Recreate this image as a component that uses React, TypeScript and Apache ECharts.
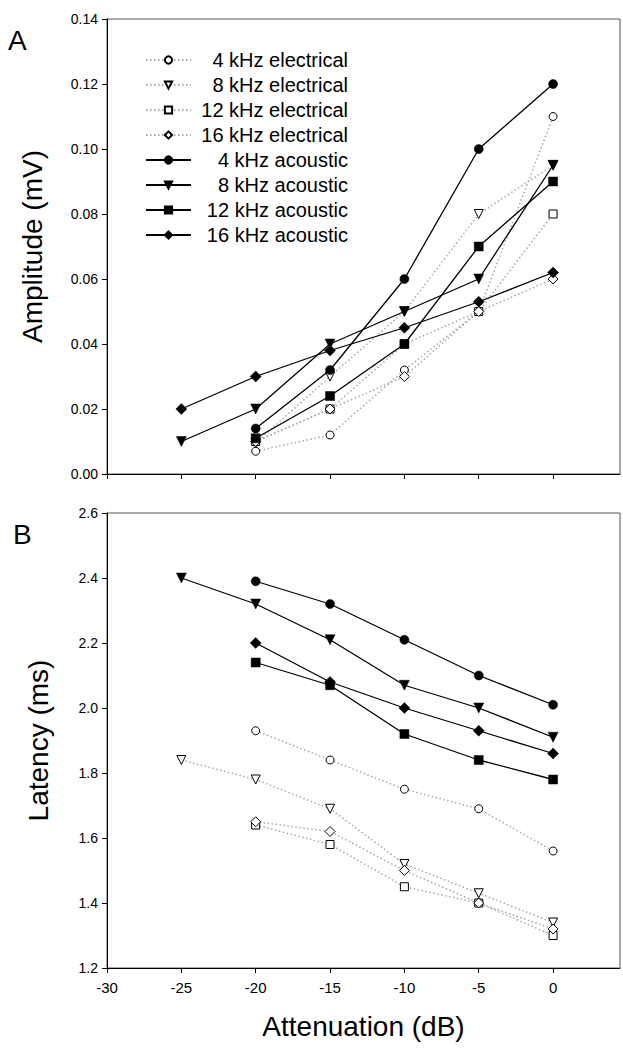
import React, { useEffect, useRef } from "react";
import * as echarts from "echarts";

// Attenuation (dB) positions shared by all series
const attenuation = [-25, -20, -15, -10, -5, 0];
const xTickValues = [-30, -25, -20, -15, -10, -5, 0];

const seriesNames = [
  "4 kHz electrical",
  "8 kHz electrical",
  "12 kHz electrical",
  "16 kHz electrical",
  "4 kHz acoustic",
  "8 kHz acoustic",
  "12 kHz acoustic",
  "16 kHz acoustic",
];

// Panel A: amplitude (mV)
const ampElec4 = [null, 0.007, 0.012, 0.032, 0.05, 0.11];
const ampElec8 = [null, 0.0095, 0.03, 0.05, 0.08, 0.095];
const ampElec12 = [null, 0.01, 0.02, 0.04, 0.05, 0.08];
const ampElec16 = [null, 0.01, 0.02, 0.03, 0.05, 0.06];
const ampAc4 = [null, 0.014, 0.032, 0.06, 0.1, 0.12];
const ampAc8 = [0.01, 0.02, 0.04, 0.05, 0.06, 0.095];
const ampAc12 = [null, 0.011, 0.024, 0.04, 0.07, 0.09];
const ampAc16 = [0.02, 0.03, 0.038, 0.045, 0.053, 0.062];

// Panel B: latency (ms)
const latElec4 = [null, 1.93, 1.84, 1.75, 1.69, 1.56];
const latElec8 = [1.84, 1.78, 1.69, 1.52, 1.43, 1.34];
const latElec12 = [null, 1.64, 1.58, 1.45, 1.4, 1.3];
const latElec16 = [null, 1.65, 1.62, 1.5, 1.4, 1.32];
const latAc4 = [null, 2.39, 2.32, 2.21, 2.1, 2.01];
const latAc8 = [2.4, 2.32, 2.21, 2.07, 2.0, 1.91];
const latAc12 = [null, 2.14, 2.07, 1.92, 1.84, 1.78];
const latAc16 = [null, 2.2, 2.08, 2.0, 1.93, 1.86];

const ampValues = [ampElec4, ampElec8, ampElec12, ampElec16, ampAc4, ampAc8, ampAc12, ampAc16];
const latValues = [latElec4, latElec8, latElec12, latElec16, latAc4, latAc8, latAc12, latAc16];

const FONT = "'Liberation Sans', Arial, sans-serif";

type Style = { symbol: string; size: number; rotate: number; filled: boolean };
const styles: Style[] = [
  { symbol: "circle", size: 8, rotate: 0, filled: false },
  { symbol: "triangle", size: 9, rotate: 180, filled: false },
  { symbol: "rect", size: 8, rotate: 0, filled: false },
  { symbol: "diamond", size: 10, rotate: 0, filled: false },
  { symbol: "circle", size: 9, rotate: 0, filled: true },
  { symbol: "triangle", size: 10, rotate: 180, filled: true },
  { symbol: "rect", size: 9, rotate: 0, filled: true },
  { symbol: "diamond", size: 11, rotate: 0, filled: true },
];

function pairs(vals: (number | null)[]) {
  const out: number[][] = [];
  vals.forEach((v, i) => {
    if (v !== null) out.push([attenuation[i], v]);
  });
  return out;
}

function makeSeries(idx: number, vals: (number | null)[], axis: number) {
  const st = styles[idx];
  return {
    type: "line",
    name: seriesNames[idx],
    xAxisIndex: axis,
    yAxisIndex: axis,
    data: pairs(vals),
    symbol: st.symbol,
    symbolSize: st.size,
    symbolRotate: st.rotate,
    showAllSymbol: true,
    silent: true,
    z: st.filled ? 3 : 2,
    lineStyle: st.filled
      ? { color: "#000", width: 1.3, type: "solid" }
      : { color: "#a8a8a8", width: 1.5, type: [1.5, 2.5] },
    itemStyle: st.filled
      ? { color: "#000", borderColor: "#000", borderWidth: 0.5 }
      : { color: "#fff", borderColor: "#000", borderWidth: 1 },
    emphasis: { disabled: true },
  };
}

function xAxisCfg(gridIndex: number, showLabels: boolean) {
  return {
    type: "value",
    gridIndex,
    min: -30,
    max: 4.5,
    name: showLabels ? "Attenuation (dB)" : "",
    nameLocation: "middle",
    nameGap: 44,
    nameTextStyle: { fontSize: 28, fontFamily: FONT, color: "#000" },
    axisLine: { show: true, onZero: false, lineStyle: { color: "#000", width: 1 } },
    axisTick: { show: true, length: 5, customValues: xTickValues, lineStyle: { color: "#000" } },
    axisLabel: {
      show: showLabels,
      customValues: xTickValues,
      margin: 12,
      fontSize: 15,
      fontFamily: FONT,
      color: "#000",
    },
    splitLine: { show: false },
  };
}

function yAxisCfg(
  gridIndex: number,
  name: string,
  min: number,
  max: number,
  interval: number,
  digits: number,
  nameGap: number
) {
  return {
    type: "value",
    gridIndex,
    min,
    max,
    interval,
    name,
    nameLocation: "middle",
    nameGap,
    nameTextStyle: { fontSize: 28, fontFamily: FONT, color: "#000" },
    axisLine: { show: true, onZero: false, lineStyle: { color: "#000", width: 1 } },
    axisTick: { show: true, length: 5, lineStyle: { color: "#000" } },
    axisLabel: {
      margin: 9,
      fontSize: 14,
      fontFamily: FONT,
      color: "#000",
      formatter: (v: number) => v.toFixed(digits),
    },
    splitLine: { show: false },
  };
}

export default function App() {
  const ref = useRef<HTMLDivElement>(null);
  useEffect(() => {
    if (!ref.current) return;
    const chart = echarts.init(ref.current, null, { renderer: "svg" });
    const series: any[] = [];
    ampValues.forEach((vals, i) => series.push(makeSeries(i, vals, 0)));
    latValues.forEach((vals, i) => series.push(makeSeries(i, vals, 1)));
    chart.setOption({
      animation: false,
      backgroundColor: "#fff",
      grid: [
        { left: 107, top: 19, width: 513, height: 455, show: true, borderColor: "#555", borderWidth: 1 },
        { left: 107, top: 513, width: 513, height: 455, show: true, borderColor: "#555", borderWidth: 1 },
      ],
      xAxis: [xAxisCfg(0, false), xAxisCfg(1, true)],
      yAxis: [
        yAxisCfg(0, "Amplitude (mV)", 0, 0.14, 0.02, 2, 61),
        yAxisCfg(1, "Latency (ms)", 1.2, 2.6, 0.2, 1, 55),
      ],
      legend: {
        data: seriesNames,
        orient: "vertical",
        left: 140,
        top: 45,
        itemWidth: 45,
        itemHeight: 9,
        itemGap: 5,
        selectedMode: false,
        formatter: (name: string) => `{t|${name}}`,
        textStyle: {
          rich: {
            t: {
              width: 152,
              align: "right",
              fontSize: 20,
              lineHeight: 20,
              fontFamily: FONT,
              color: "#000",
            },
          },
        },
      },
      graphic: [
        {
          type: "text",
          left: 8,
          top: 26,
          style: { text: "A", fontSize: 28, fontFamily: FONT, fill: "#000" },
        },
        {
          type: "text",
          left: 13,
          top: 520,
          style: { text: "B", fontSize: 28, fontFamily: FONT, fill: "#000" },
        },
      ],
      series,
    });
    return () => chart.dispose();
  }, []);
  return (
    <div
      ref={ref}
      style={{ position: "absolute", left: 0, top: 0, width: 623, height: 1050, background: "#fff" }}
    />
  );
}
